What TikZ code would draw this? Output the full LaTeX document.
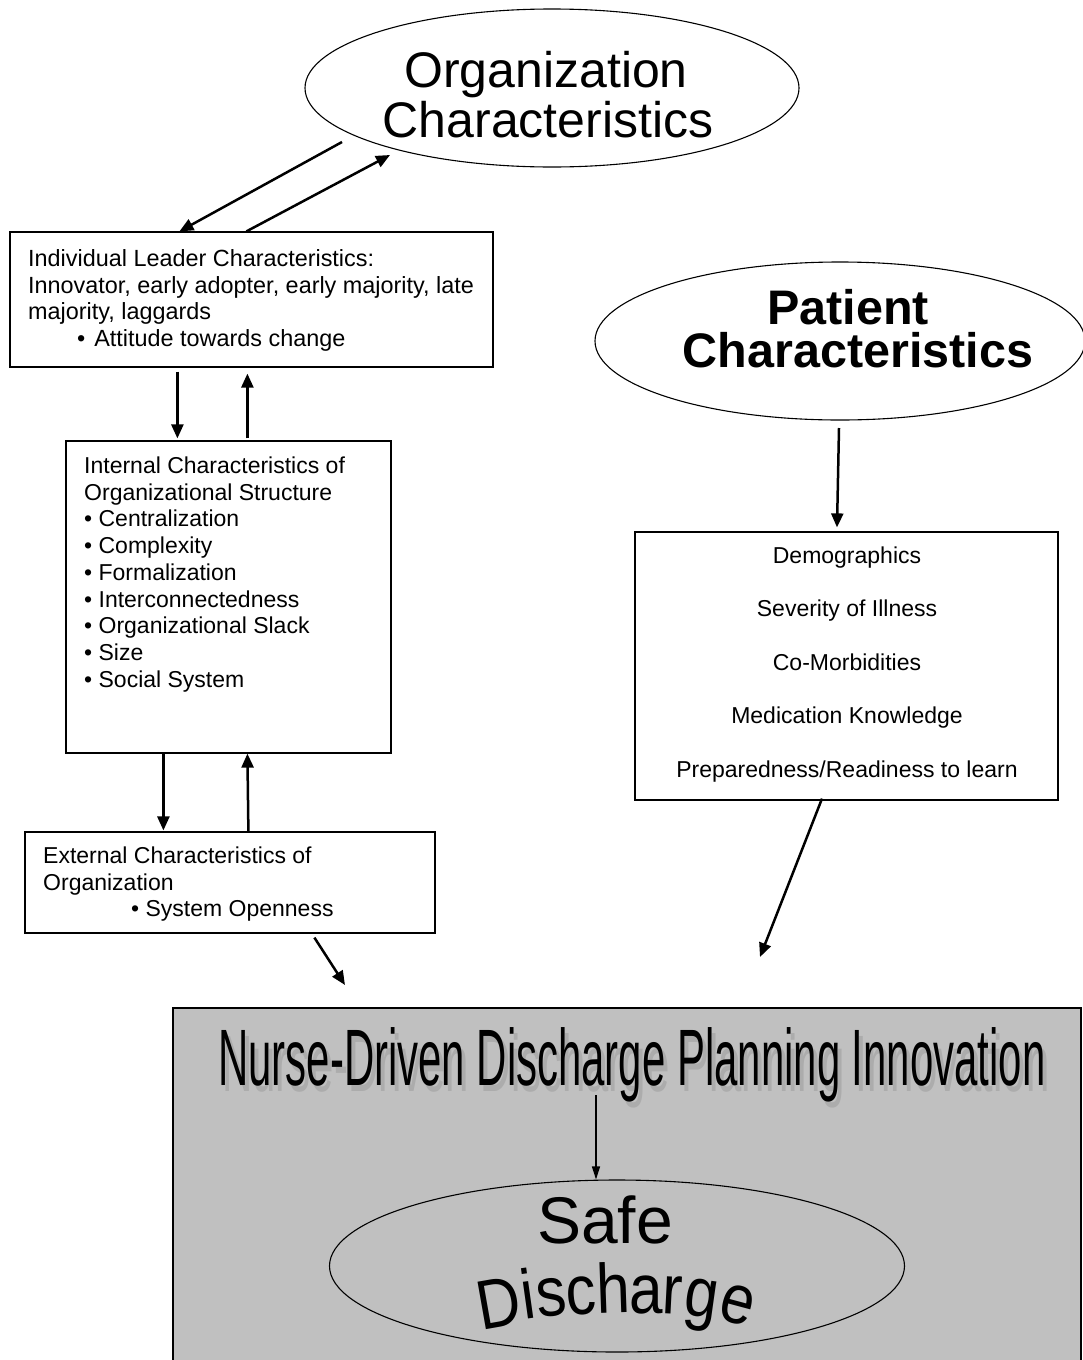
\documentclass[tikz,border=0pt]{standalone}
\usepackage{fontspec}
\setmainfont{Liberation Sans}
\usetikzlibrary{arrows.meta,shapes.geometric}
\definecolor{panelgray}{RGB}{192,192,192}
\definecolor{shadowgray}{RGB}{172,172,172}
\tikzset{
  thickarrow/.style={line width=2.5pt, -{Triangle[length=14pt,width=12pt]}},
  thinarrow/.style={line width=1.3pt, -{Triangle[length=13pt,width=8pt]}},
  frame/.style={draw, line width=1.2pt, inner sep=0pt},
  oval/.style={draw, ellipse, line width=1.1pt, inner sep=0pt},
  body/.style={inner sep=0pt, font=\fontsize{23}{26.7}\selectfont, align=left, anchor=north west},
  bigtext/.style={anchor=base, inner sep=0pt, font=\fontsize{50}{50}\selectfont},
  boldtext/.style={anchor=base, inner sep=0pt, font=\bfseries\fontsize{48.5}{48.5}\selectfont},
}
\begin{document}
\begin{tikzpicture}[x=1pt,y=-1pt]
\useasboundingbox (0,0) rectangle (1083,1360);
\clip (0,0) rectangle (1083,1360);

% Organization ellipse
\node[oval, minimum width=494pt, minimum height=158pt] (org) at (552,88) {};
\node[bigtext] (orgl1) at (546,87) {Organization};
\node[bigtext] (orgl2) at (548,137) {Characteristics};

% Patient ellipse
\node[oval, minimum width=490pt, minimum height=158pt] (pat) at (840,341) {};
\node[boldtext] (patl1) at (848,324) {Patient};
\node[boldtext] (patl2) at (858,367) {Characteristics};

% Leader box
\node[frame, minimum width=483pt, minimum height=135pt] (lead) at (251.5,299.5) {};
\node[body, font=\fontsize{23.4}{26.5}\selectfont] (leadtxt) at (28,249.5) {Individual Leader Characteristics:\\Innovator, early adopter, early majority, late\\majority, laggards\\\hspace*{49pt}•\hspace{9pt}Attitude towards change};

% Internal box
\node[frame, minimum width=325pt, minimum height=312pt] (intl) at (228.5,597) {};
\node[body, font=\fontsize{23}{26.75}\selectfont] (intltxt) at (84,456.5) {Internal Characteristics of\\Organizational Structure\\• Centralization\\• Complexity\\• Formalization\\• Interconnectedness\\• Organizational Slack\\• Size\\• Social System};

% External box
\node[frame, minimum width=410pt, minimum height=101pt] (ext) at (230,882.5) {};
\node[body] (exttxt) at (43,846.5) {External Characteristics of\\Organization\\\hspace*{88pt}• System Openness};

% Demographics box
\node[frame, minimum width=423pt, minimum height=268pt] (demo) at (846.5,666) {};
\node[body, align=center, anchor=north, font=\fontsize{23}{53.5}\selectfont] (demotxt) at (847,546.5) {Demographics\\Severity of Illness\\Co-Morbidities\\Medication Knowledge\\Preparedness/Readiness to learn};

% Gray panel
\node[draw, line width=2pt, fill=panelgray, minimum width=908pt, minimum height=380pt, anchor=north west, inner sep=0pt] (panel) at (172,1007) {};
\node[anchor=base, inner sep=0pt, text=shadowgray, font=\fontsize{80}{80}\selectfont] (nurseshadow) at (636,1091) {\scalebox{0.524}[1]{Nurse-Driven Discharge Planning Innovation}};
\node[anchor=base, inner sep=0pt, font=\fontsize{80}{80}\selectfont] (nurse) at (632,1085) {\scalebox{0.524}[1]{Nurse-Driven Discharge Planning Innovation}};

% Safe discharge ellipse
\node[oval, minimum width=575pt, minimum height=172pt] (safe) at (617,1266) {};
\node[anchor=base, inner sep=0pt, font=\fontsize{66}{66}\selectfont] (safetxt) at (605,1243) {Safe};
\foreach \ch/\px/\py/\ang [count=\i] in {D/503/1327/10, i/531/1319/8, s/553/1316/6, c/583/1314/4, h/614/1313/2, a/646/1313/0, r/672/1314/-3, g/699/1317/-8, e/733/1323/-15}{
  \node[anchor=base, inner sep=0pt, rotate=\ang, font=\fontsize{70}{70}\selectfont] (dis\i) at (\px,\py) {\scalebox{0.86}[1]{\ch}};
}

% Arrows
\draw[thickarrow] ([shift={(-210,54)}]org.center) -- ([shift={(170,0)}]lead.north west);
\draw[thickarrow] ([shift={(237,0)}]lead.north west) -- ([shift={(-162,67)}]org.center);
\draw[thickarrow] ([shift={(168,4)}]lead.south west) -- ([shift={(112,-2)}]intl.north west);
\draw[thickarrow] ([shift={(182,-2)}]intl.north west) -- ([shift={(238,6)}]lead.south west);
\draw[thickarrow] ([shift={(98,0)}]intl.south west) -- ([shift={(139,-1)}]ext.north west);
\draw[thickarrow] ([shift={(224,0)}]ext.north west) -- ([shift={(182,0)}]intl.south west);
\draw[thickarrow] ([shift={(290,4)}]ext.south west) -- ([shift={(173,-22)}]panel.north west);
\draw[thickarrow] ([shift={(-1,87)}]pat.center) -- ([shift={(-9.5,-4)}]demo.north);
\draw[thickarrow] ([shift={(-24.5,-2)}]demo.south) -- ([shift={(588,-50)}]panel.north west);
\draw[thinarrow] ([shift={(-36,10)}]nurse.base) -- ([shift={(-21,0)}]safe.north);
\end{tikzpicture}
\end{document}
